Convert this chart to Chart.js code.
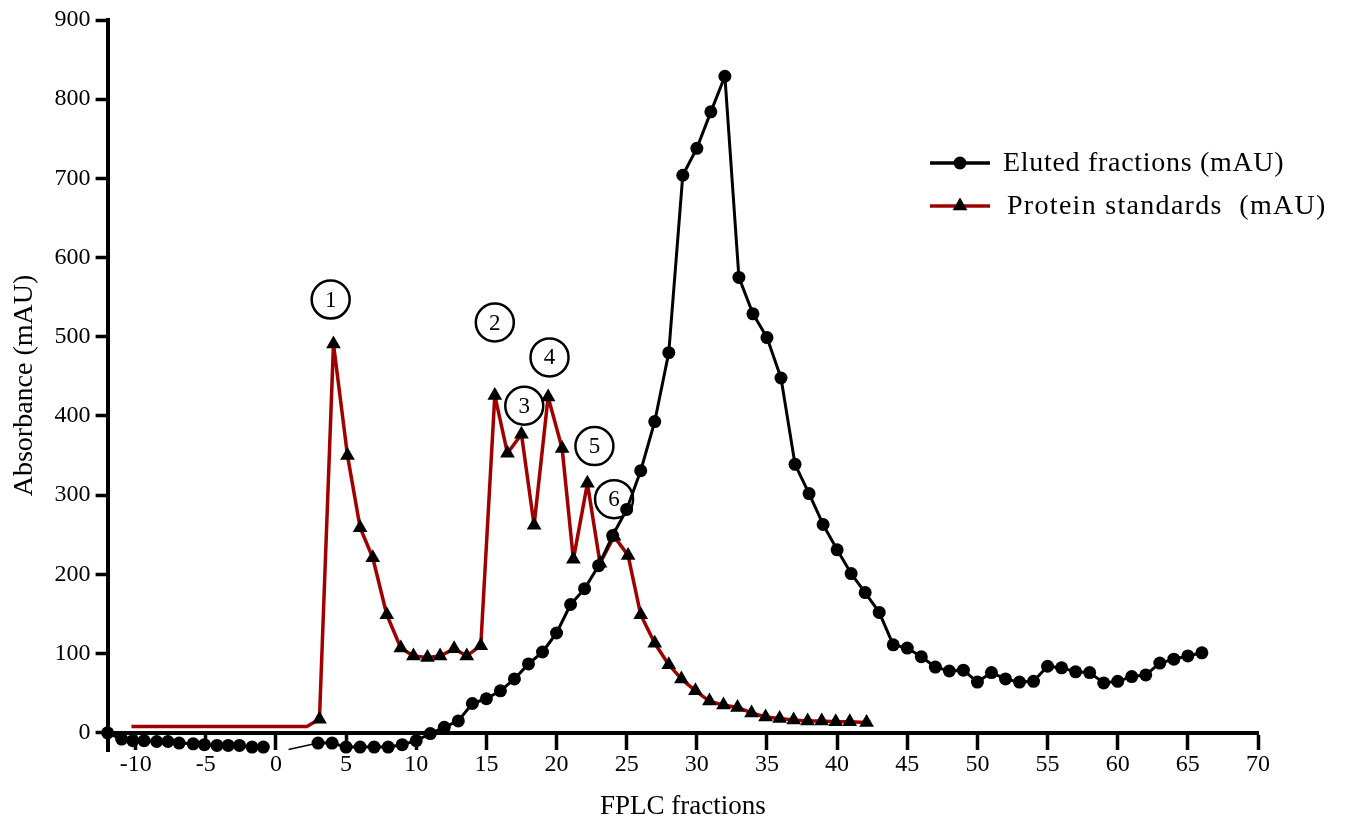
<!DOCTYPE html>
<html lang="en">
<head>
<meta charset="UTF-8">
<title>FPLC fractions</title>
<script src="https://cdn.jsdelivr.net/npm/chart.js"></script>
<style>
  body { margin: 0; background: #fff; }
  #wrap { width: 1345px; height: 820px; }
</style>
</head>
<body>
<div id="wrap"><canvas id="fplcChart"></canvas></div>
<script>
// values (fraction number, absorbance in mAU)
const elutedX = [-12, -11, -10.2, -9.4, -8.5, -7.7, -6.9, -5.9, -5.1, -4.2, -3.4, -2.6, -1.7, -0.9,
  0, 0.9,
  3, 4, 5, 6, 7, 8, 9, 10, 11, 12, 13, 14, 15, 16, 17, 18, 19, 20, 21, 22, 23, 24,
  25, 26, 27, 28, 29, 30, 31, 32, 33, 34, 35, 36, 37, 38, 39, 40, 41, 42, 43, 44, 45,
  46, 47, 48, 49, 50, 51, 52, 53, 54, 55, 56, 57, 58, 59, 60, 61, 62, 63, 64, 65, 66];
const elutedY = [0, -8, -10, -10, -11, -11, -13, -14, -15, -16, -16, -16, -18, -18,
  null, -21,
  -13, -13, -18, -18, -18, -18, -15, -10, -1, 7, 15, 37, 43, 53, 68, 87, 102, 126, 162, 182, 211, 249,
  282, 331, 393, 480, 704, 738, 784, 829, 575, 529, 499, 448, 339, 302, 263, 231, 201, 177, 152, 111, 107,
  96, 83, 78, 79, 64, 76, 68, 64, 65, 84, 82, 77, 76, 63, 65, 71, 73, 88, 93, 97, 101];
const elutedNoMark = [0.9];

const proteinX = [-10.3, 2.2, 3.1, 4.1, 5.1, 6.0, 6.9, 7.9, 8.9, 9.8, 10.8, 11.7, 12.7, 13.6, 14.6,
  15.6, 16.5, 17.5, 18.4, 19.4, 20.4, 21.2, 22.2, 23.1, 24.1, 25.1, 26.0, 27.0, 28.0, 28.9,
  29.9, 30.9, 31.9, 32.9, 33.9, 34.9, 35.9, 36.9, 37.9, 38.9, 39.9, 40.9, 42.1];
const proteinY = [8, 8, 17, 491, 350, 259, 221, 149, 107, 97, 95, 97, 106, 97, 110,
  426, 353, 377, 262, 424, 359, 219, 315, 214, 248, 224, 149, 113, 86, 68,
  53, 40, 35, 32, 25, 20, 18, 16, 15, 15, 14, 14, 13];
const proteinNoMark = [-10.3, 2.2];

const peakLabels = ['1', '2', '3', '4', '5', '6'];
const peakX = [3.9, 15.6, 17.7, 19.5, 22.7, 24.1];
const peakY = [547, 518, 413, 474, 362, 295];

const xTicks = [-10, -5, 0, 5, 10, 15, 20, 25, 30, 35, 40, 45, 50, 55, 60, 65, 70];
const yTicks = [0, 100, 200, 300, 400, 500, 600, 700, 800, 900];
const seriesNames = ['Eluted fractions (mAU)', 'Protein standards  (mAU)'];

const FONT = '"Liberation Serif", "Times New Roman", serif';
const RED = '#a00000';

function drawMarker(ctx, style, x, y, r) {
  ctx.beginPath();
  if (style === 'circle') {
    ctx.arc(x, y, r, 0, Math.PI * 2);
  } else {
    ctx.moveTo(x, y - r);
    ctx.lineTo(x + r * 0.866, y + r * 0.5);
    ctx.lineTo(x - r * 0.866, y + r * 0.5);
    ctx.closePath();
  }
  ctx.fillStyle = 'black';
  ctx.fill();
}

// legend sits inside the plot, to the right of the peak
const sideLegend = {
  id: 'sideLegend',
  afterDraw(chart) {
    const ctx = chart.ctx;
    const items = [
      { text: seriesNames[0], color: 'black', style: 'circle', r: 6.5, y: 163, tx: 1003, sp: '0.7px' },
      { text: seriesNames[1], color: RED, style: 'triangle', r: 8.5, y: 206, tx: 1007, sp: '1.3px' }
    ];
    ctx.save();
    items.forEach(it => {
      ctx.strokeStyle = it.color;
      ctx.lineWidth = 3.5;
      ctx.beginPath();
      ctx.moveTo(930, it.y);
      ctx.lineTo(990, it.y);
      ctx.stroke();
      drawMarker(ctx, it.style, 960, it.y, it.r);
      ctx.font = '28px ' + FONT;
      ctx.letterSpacing = it.sp;
      ctx.fillStyle = 'black';
      ctx.textAlign = 'left';
      ctx.textBaseline = 'middle';
      ctx.fillText(it.text, it.tx, it.y + 1);
    });
    ctx.restore();
  }
};

// circled peak numbers
const peakCircles = {
  id: 'peakCircles',
  afterDatasetsDraw(chart) {
    const ctx = chart.ctx;
    const xs = chart.scales.x, ys = chart.scales.y;
    ctx.save();
    peakLabels.forEach((lab, i) => {
      const px = xs.getPixelForValue(peakX[i]);
      const py = ys.getPixelForValue(peakY[i]);
      ctx.beginPath();
      ctx.arc(px, py, 19, 0, Math.PI * 2);
      ctx.lineWidth = 2.5;
      ctx.strokeStyle = 'black';
      ctx.stroke();
      ctx.font = '23px ' + FONT;
      ctx.fillStyle = 'black';
      ctx.textAlign = 'center';
      ctx.textBaseline = 'middle';
      ctx.fillText(lab, px, py + 1);
    });
    ctx.restore();
  }
};

const elutedData = elutedX.map((x, i) => ({ x: x, y: elutedY[i] }));
const proteinData = proteinX.map((x, i) => ({ x: x, y: proteinY[i] }));

new Chart(document.getElementById('fplcChart'), {
  type: 'line',
  data: {
    datasets: [
      {
        label: seriesNames[0],
        data: elutedData,
        borderColor: 'black',
        borderWidth: 3,
        borderJoinStyle: 'round',
        pointStyle: 'circle',
        pointRadius: elutedX.map(x => elutedNoMark.includes(x) ? 0 : 6.5),
        pointBackgroundColor: 'black',
        pointBorderWidth: 0,
        spanGaps: false,
        clip: false,
        segment: {
          borderWidth: c => elutedNoMark.includes(elutedX[c.p0DataIndex]) ? 1.5 : undefined
        }
      },
      {
        label: seriesNames[1],
        data: proteinData,
        borderColor: RED,
        borderWidth: 3.5,
        borderJoinStyle: 'round',
        pointStyle: 'triangle',
        pointRadius: proteinX.map(x => proteinNoMark.includes(x) ? 0 : 8.5),
        pointBackgroundColor: 'black',
        pointBorderWidth: 0,
        clip: false
      }
    ]
  },
  options: {
    responsive: true,
    maintainAspectRatio: false,
    animation: false,
    layout: { padding: { left: 0, right: 87, top: 20, bottom: 0 } },
    scales: {
      x: {
        type: 'linear',
        min: -12,
        max: 70,
        position: { y: 0 },
        afterBuildTicks: s => { s.ticks = xTicks.map(v => ({ value: v })); },
        grid: { drawOnChartArea: false, drawTicks: true, tickLength: 15, tickColor: 'black', tickWidth: 3.5 },
        border: { display: true, color: 'black', width: 4 },
        ticks: { color: 'black', padding: 3, font: { family: FONT, size: 24 }, maxRotation: 0 },
        title: { display: false }
      },
      y: {
        type: 'linear',
        min: -23,
        max: 900,
        afterBuildTicks: s => { s.ticks = yTicks.map(v => ({ value: v })); },
        grid: { drawOnChartArea: false, drawTicks: true, tickLength: 12, tickColor: 'black', tickWidth: 3.5 },
        border: { display: true, color: 'black', width: 4 },
        ticks: { color: 'black', padding: 5, font: { family: FONT, size: 24 } },
        title: {
          display: true,
          text: 'Absorbance (mAU)',
          color: 'black',
          font: { family: FONT, size: 28 },
          padding: { top: 8, bottom: 8 }
        }
      }
    },
    plugins: {
      legend: { display: false },
      tooltip: { enabled: false },
      title: {
        display: true,
        position: 'bottom',
        fullSize: false,
        text: 'FPLC fractions',
        color: 'black',
        font: { family: FONT, size: 27, weight: 'normal', lineHeight: 1 },
        padding: { top: 42, bottom: 0 }
      }
    }
  },
  plugins: [peakCircles, sideLegend]
});
</script>
</body>
</html>
